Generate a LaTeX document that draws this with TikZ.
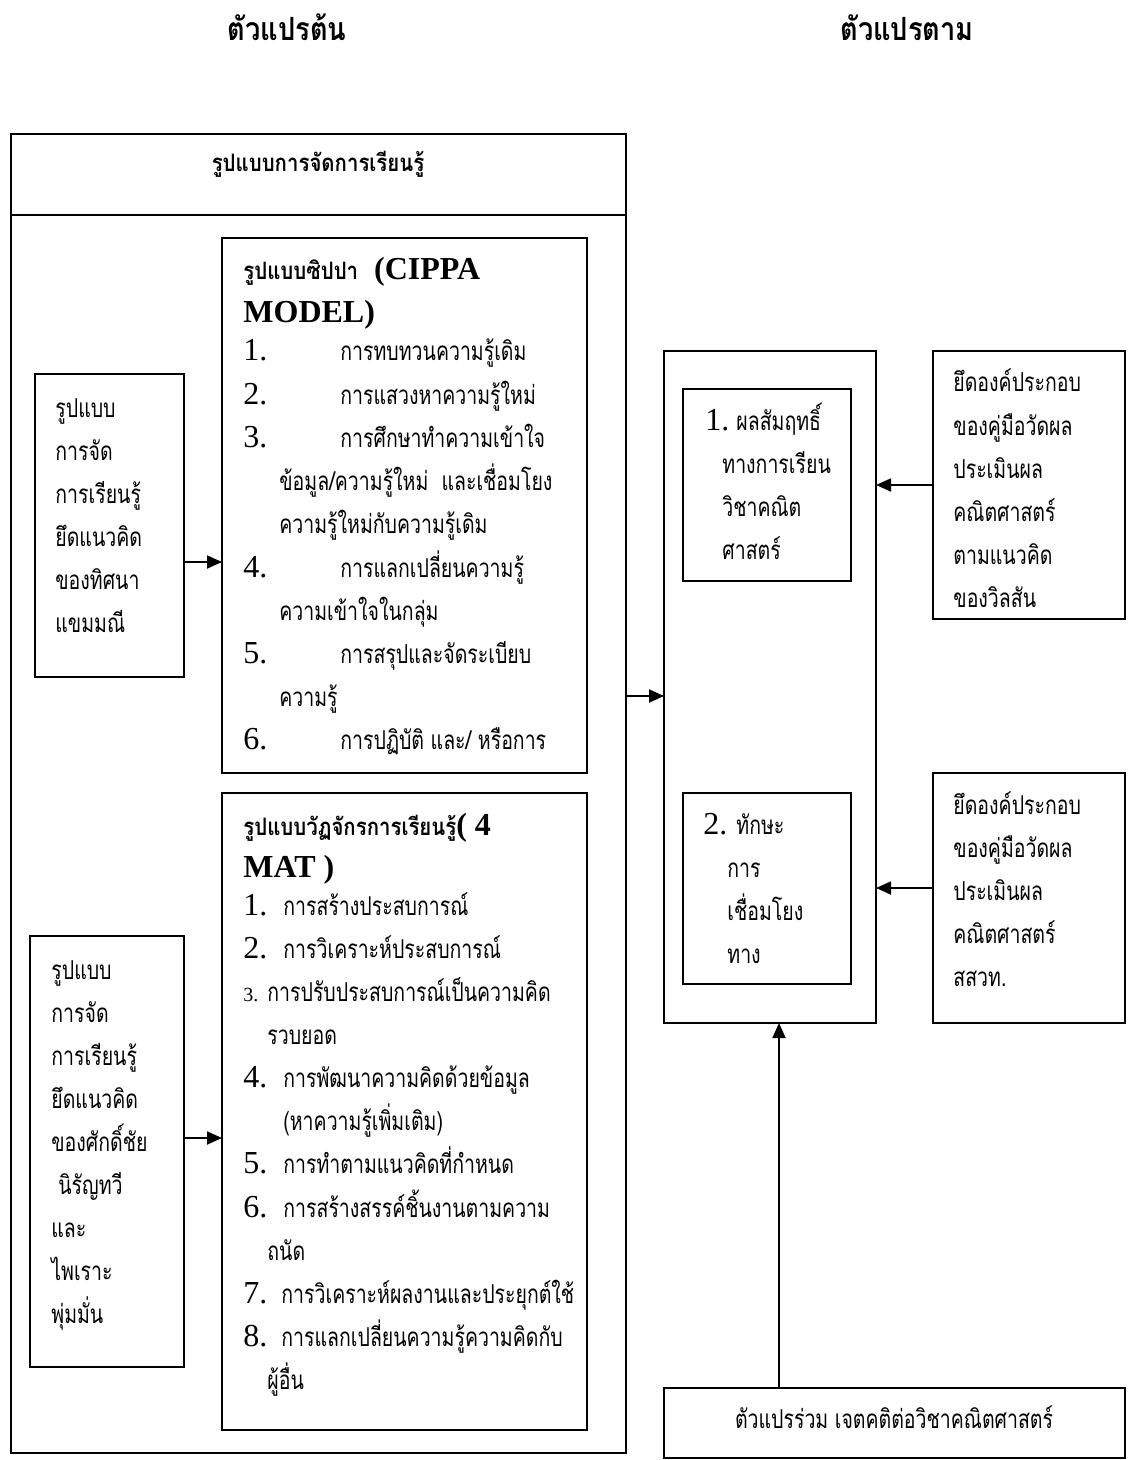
\documentclass[tikz,border=0pt]{standalone}
\usepackage{fontspec}
\setmainfont{Liberation Serif}
\newfontfamily\thaifont[Script=Thai,FakeStretch=0.75]{Loma}
\newfontfamily\thaibold[Script=Thai,FakeStretch=0.85]{Loma}
\usetikzlibrary{arrows.meta}
\newcommand\mkbox[5]{\node[boxst, minimum width={(#4-#2)*0.5pt}, minimum height={(#5-#3)*0.5pt}] (#1) at ({(#2+#4)/2},{(#3+#5)/2}) {};}
\tikzset{
  x=0.5pt, y=-0.5pt,
  boxst/.style={draw, line width=0.9pt, inner sep=0pt, outer sep=0pt},
  txt/.style={anchor=base west, inner sep=0pt, font=\thaifont\fontsize{13}{13}\selectfont},
  num/.style={anchor=base west, inner sep=0pt, font=\fontsize{16}{16}\selectfont},
  smallnum/.style={anchor=base west, inner sep=0pt, font=\fontsize{10}{10}\selectfont},
  ttl/.style={anchor=base, inner sep=0pt, font=\thaibold\bfseries\fontsize{16}{16}\selectfont},
  arr/.style={line width=0.9pt, -{Triangle[length=7.5pt,width=6.5pt]}},
}
\begin{document}
\begin{tikzpicture}
\useasboundingbox[fill=white] (0,0) rectangle (1128,1460);
% titles
\node[ttl] (t1) at (287,41) {ตัวแปรต้น};
\node[ttl] (t2) at (907,41) {ตัวแปรตาม};
% boxes
\mkbox{outer}{11}{134}{626}{1453}
\coordinate (hdr) at (0,215);
\draw[line width=0.9pt] (outer.west |- hdr) -- (outer.east |- hdr);
\node[ttl, font=\thaibold\bfseries\fontsize{12}{12}\selectfont] (hd) at (318,172) {รูปแบบการจัดการเรียนรู้};
\mkbox{L1}{35}{374}{184}{677}
\mkbox{L2}{30}{936}{184}{1367}
\mkbox{cip}{222}{238}{587}{773}
\mkbox{mat}{222}{793}{587}{1430}
\mkbox{big}{664}{351}{876}{1023}
\mkbox{in1}{683}{389}{851}{581}
\mkbox{in2}{683}{793}{851}{984}
\mkbox{rA}{933}{351}{1125}{619}
\mkbox{rB}{933}{773}{1125}{1023}
\mkbox{bot}{664}{1388}{1125}{1458}
% left box 1
\node[txt] (l11) at (55,417) {รูปแบบ};
\node[txt] (l12) at (55,460) {การจัด};
\node[txt] (l13) at (55,503) {การเรียนรู้};
\node[txt] (l14) at (55,546) {ยึดแนวคิด};
\node[txt] (l15) at (55,589) {ของทิศนา};
\node[txt] (l16) at (55,632) {แขมมณี};
% left box 2
\node[txt] (l21) at (51,979) {รูปแบบ};
\node[txt] (l22) at (51,1022) {การจัด};
\node[txt] (l23) at (51,1065) {การเรียนรู้};
\node[txt] (l24) at (51,1108) {ยึดแนวคิด};
\node[txt] (l25) at (51,1151) {ของศักดิ์ชัย};
\node[txt] (l26) at (58,1194) {นิรัญทวี};
\node[txt] (l27) at (51,1237) {และ};
\node[txt] (l28) at (51,1280) {ไพเราะ};
\node[txt] (l29) at (51,1323) {พุ่มมั่น};
% CIPPA
\node[num] (c0) at (243,280) {{\thaibold\bfseries\fontsize{12}{12}\selectfont รูปแบบซิปปา}\ \ \textbf{(CIPPA}};
\node[num] (c0b) at (243,323) {\textbf{MODEL)}};
\node[num] (cn1) at (243,360) {1.};
\node[txt] (c1) at (340,360) {การทบทวนความรู้เดิม};
\node[num] (cn2) at (243,404) {2.};
\node[txt] (c2) at (340,404) {การแสวงหาความรู้ใหม่};
\node[num] (cn3) at (243,447) {3.};
\node[txt] (c3) at (340,447) {การศึกษาทำความเข้าใจ};
\node[txt] (c3b) at (279,490) {ข้อมูล/ความรู้ใหม่\ \ และเชื่อมโยง};
\node[txt] (c3c) at (279,533) {ความรู้ใหม่กับความรู้เดิม};
\node[num] (cn4) at (243,577) {4.};
\node[txt] (c4) at (340,577) {การแลกเปลี่ยนความรู้};
\node[txt] (c4b) at (279,620) {ความเข้าใจในกลุ่ม};
\node[num] (cn5) at (243,663) {5.};
\node[txt] (c5) at (340,663) {การสรุปและจัดระเบียบ};
\node[txt] (c5b) at (279,706) {ความรู้};
\node[num] (cn6) at (243,749) {6.};
\node[txt] (c6) at (340,749) {การปฏิบัติ และ/ หรือการ};
% 4MAT
\node[num] (m0) at (243,835) {{\thaibold\bfseries\fontsize{12}{12}\selectfont รูปแบบวัฏจักรการเรียนรู้}\textbf{( 4}};
\node[num] (m0b) at (243,877) {\textbf{MAT )}};
\node[num] (mn1) at (243,915) {1.};
\node[txt] (m1) at (283,915) {การสร้างประสบการณ์};
\node[num] (mn2) at (243,958) {2.};
\node[txt] (m2) at (283,958) {การวิเคราะห์ประสบการณ์};
\node[smallnum] (mn3) at (243,1001) {3.};
\node[txt] (m3) at (267,1001) {การปรับประสบการณ์เป็นความคิด};
\node[txt] (m3b) at (267,1044) {รวบยอด};
\node[num] (mn4) at (243,1087) {4.};
\node[txt] (m4) at (283,1087) {การพัฒนาความคิดด้วยข้อมูล};
\node[txt] (m4b) at (283,1130) {(หาความรู้เพิ่มเติม)};
\node[num] (mn5) at (243,1173) {5.};
\node[txt] (m5) at (283,1173) {การทำตามแนวคิดที่กำหนด};
\node[num] (mn6) at (243,1217) {6.};
\node[txt] (m6) at (283,1217) {การสร้างสรรค์ชิ้นงานตามความ};
\node[txt] (m6b) at (267,1260) {ถนัด};
\node[num] (mn7) at (243,1303) {7.};
\node[txt] (m7) at (281,1303) {การวิเคราะห์ผลงานและประยุกต์ใช้};
\node[num] (mn8) at (243,1346) {8.};
\node[txt] (m8) at (281,1346) {การแลกเปลี่ยนความรู้ความคิดกับ};
\node[txt] (m8b) at (267,1389) {ผู้อื่น};
% inner boxes
\node[num] (in1n) at (705,430) {1.};
\node[txt] (in1a) at (736,430) {ผลสัมฤทธิ์};
\node[txt] (in1b) at (722,473) {ทางการเรียน};
\node[txt] (in1c) at (722,516) {วิชาคณิต};
\node[txt] (in1d) at (722,559) {ศาสตร์};
\node[num] (in2n) at (703,834) {2.};
\node[txt] (in2a) at (736,834) {ทักษะ};
\node[txt] (in2b) at (727,877) {การ};
\node[txt] (in2c) at (727,920) {เชื่อมโยง};
\node[txt] (in2d) at (727,963) {ทาง};
% right boxes
\node[txt] (ra1) at (953,392) {ยึดองค์ประกอบ};
\node[txt] (ra2) at (953,435) {ของคู่มือวัดผล};
\node[txt] (ra3) at (953,478) {ประเมินผล};
\node[txt] (ra4) at (953,521) {คณิตศาสตร์};
\node[txt] (ra5) at (953,564) {ตามแนวคิด};
\node[txt] (ra6) at (953,607) {ของวิลสัน};
\node[txt] (rb1) at (953,814) {ยึดองค์ประกอบ};
\node[txt] (rb2) at (953,857) {ของคู่มือวัดผล};
\node[txt] (rb3) at (953,900) {ประเมินผล};
\node[txt] (rb4) at (953,943) {คณิตศาสตร์};
\node[txt] (rb5) at (953,986) {สสวท.};
\node[txt, anchor=base] (bt) at (894,1428) {ตัวแปรร่วม เจตคติต่อวิชาคณิตศาสตร์};
% arrows
\coordinate (y1) at (0,562);
\coordinate (y2) at (0,1138);
\coordinate (y3) at (0,696);
\coordinate (y4) at (0,888);
\coordinate (x5) at (779,0);
\draw[arr] (L1.east |- y1) -- (cip.west |- y1);
\draw[arr] (L2.east |- y2) -- (mat.west |- y2);
\draw[arr] (outer.east |- y3) -- (big.west |- y3);
\draw[arr] (rA.west) -- (big.east |- rA.west);
\draw[arr] (rB.west |- y4) -- (big.east |- y4);
\draw[arr] (bot.north -| x5) -- (big.south -| x5);
\end{tikzpicture}
\end{document}
